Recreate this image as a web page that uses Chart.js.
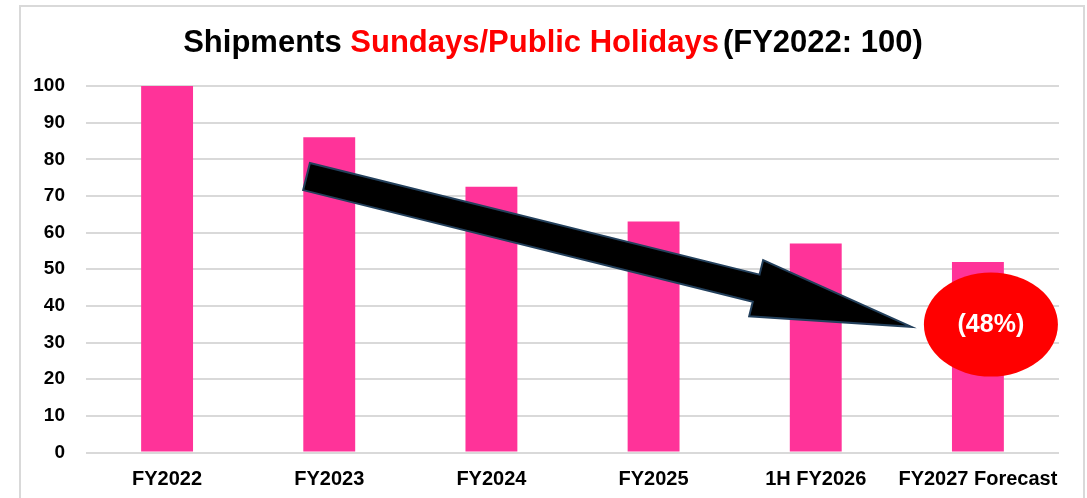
<!DOCTYPE html>
<html>
<head>
<meta charset="utf-8">
<script src="https://cdn.jsdelivr.net/npm/chart.js@4.4.1/dist/chart.umd.min.js"></script>
<style>
    body { margin: 0; background: #fff; overflow: hidden; }
    #frame {
        position: absolute; left: 19px; top: 5px; width: 1062px; height: 600px;
        border: 2px solid #d9d9d9; border-bottom: none;
    }
    #myChart { position: absolute; left: 0; top: 0; }
</style>
</head>
<body>
<div id="frame"></div>
<canvas id="myChart" width="1087" height="498"></canvas>
<script>
const labels = ['FY2022', 'FY2023', 'FY2024', 'FY2025', '1H FY2026', 'FY2027 Forecast'];
const shipments = [100, 86, 72.5, 63, 57, 52];
const titleParts = [
    { text: 'Shipments ', color: '#000000', gap: 0 },
    { text: 'Sundays/Public Holidays', color: '#ff0000', gap: 0 },
    { text: '(FY2022: 100)', color: '#000000', gap: 4 }
];
const changeLabel = '(48%)';

const FONT = '"Liberation Sans", Arial, sans-serif';

// arrow + bubble anchors, in category index / value units
const arrowTail = { x: 0.86, y: 75.3 };
const arrowTip = { x: 4.59, y: 34.3 };
const bubbleAt = { x: 5.08, y: 34.9 };

const decorations = {
    id: 'decorations',
    afterDraw(chart) {
        const c = chart.ctx;
        const xs = chart.scales.x;
        const ys = chart.scales.y;

        // title in three colours
        c.save();
        c.font = 'bold 31px ' + FONT;
        c.textBaseline = 'alphabetic';
        const total = titleParts.reduce((s, p) => s + p.gap + c.measureText(p.text).width, 0);
        let tx = 553 - total / 2;
        titleParts.forEach(p => {
            tx += p.gap;
            c.fillStyle = p.color;
            c.fillText(p.text, tx, 52);
            tx += c.measureText(p.text).width;
        });
        c.restore();

        // fat arrow
        const x0 = xs.getPixelForValue(arrowTail.x), y0 = ys.getPixelForValue(arrowTail.y);
        const x1 = xs.getPixelForValue(arrowTip.x), y1 = ys.getPixelForValue(arrowTip.y);
        const len = Math.hypot(x1 - x0, y1 - y0);
        const ux = (x1 - x0) / len, uy = (y1 - y0) / len;
        const nx = -uy, ny = ux;
        const shaft = 14, head = 29, headLen = 160;
        const bx = x1 - ux * headLen, by = y1 - uy * headLen;
        const pts = [
            [x0 - nx * shaft, y0 - ny * shaft],
            [bx - nx * shaft, by - ny * shaft],
            [bx - nx * head, by - ny * head],
            [x1, y1],
            [bx + nx * head, by + ny * head],
            [bx + nx * shaft, by + ny * shaft],
            [x0 + nx * shaft, y0 + ny * shaft]
        ];
        c.save();
        c.beginPath();
        pts.forEach((p, i) => i ? c.lineTo(p[0], p[1]) : c.moveTo(p[0], p[1]));
        c.closePath();
        c.fillStyle = '#000000';
        c.fill();
        c.lineWidth = 2;
        c.strokeStyle = '#23405c';
        c.stroke();
        c.restore();

        // red bubble
        const ex = xs.getPixelForValue(bubbleAt.x), ey = ys.getPixelForValue(bubbleAt.y);
        c.save();
        c.beginPath();
        c.ellipse(ex, ey, 67, 52, 0, 0, Math.PI * 2);
        c.fillStyle = '#ff0000';
        c.fill();
        c.font = 'bold 25px ' + FONT;
        c.fillStyle = '#ffffff';
        c.textAlign = 'center';
        c.textBaseline = 'middle';
        c.fillText(changeLabel, ex, ey + 1);
        c.restore();
    }
};

const ctx = document.getElementById('myChart').getContext('2d');

const chart = new Chart(ctx, {
    type: 'bar',
    data: {
        labels: labels,
        datasets: [
            {
                data: shipments,
                backgroundColor: '#ff3399',
                barPercentage: 0.32,
                categoryPercentage: 1
            }
        ]
    },
    options: {
        responsive: false,
        animation: false,
        layout: {
            padding: { top: 86, right: 28, left: 0, bottom: 0 }
        },
        scales: {
            y: {
                min: 0,
                max: 100,
                ticks: {
                    stepSize: 10,
                    padding: 21,
                    color: '#000',
                    font: { family: FONT, size: 19, weight: 'bold' }
                },
                grid: {
                    color: '#d9d9d9',
                    lineWidth: 2,
                    drawTicks: false
                },
                border: { display: false },
                afterFit: (s) => { s.width = 86; }
            },
            x: {
                ticks: {
                    padding: 15,
                    color: '#000',
                    maxRotation: 0,
                    font: { family: FONT, size: 20, weight: 'bold' }
                },
                grid: { display: false, drawTicks: false },
                border: { display: false },
                afterFit: (s) => { s.height = 45.5; }
            }
        },
        plugins: {
            legend: { display: false },
            title: { display: false },
            tooltip: { enabled: false }
        }
    },
    plugins: [decorations]
});
</script>
</body>
</html>
